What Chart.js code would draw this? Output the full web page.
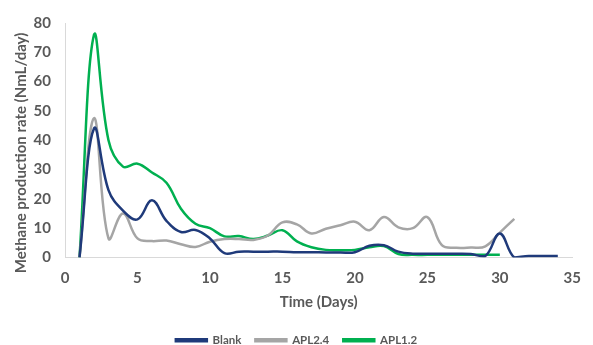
<!DOCTYPE html>
<html>
<head>
<meta charset="utf-8">
<script src="https://cdn.jsdelivr.net/npm/chart.js@4/dist/chart.umd.min.js"></script>
<style>
  html, body { margin: 0; padding: 0; background: #fff; }
  #wrap { position: relative; width: 593px; height: 345px; }
</style>
</head>
<body>
<div id="wrap"><canvas id="c" width="593" height="345"></canvas></div>
<script>
// ---- data ----
const seriesNames = ['Blank', 'APL2.4', 'APL1.2'];
const blankDays = [1,2,3,4,5,6,7,8,9,10,11,12,13,14,15,16,17,18,19,20,21,22,23,24,25,26,27,28,29,30,31,32,33,34];
const blankRate = [0,44,23,16,13,19.5,12.5,8.7,9.4,6.5,1.5,2,2,2,2,1.8,1.8,1.7,1.7,1.8,4,4.2,2,1.3,1.3,1.3,1.3,1.2,0.5,8.2,0,0.5,0.5,0.5];
const apl24Days = [1,2,3,4,5,6,7,8,9,10,11,12,13,14,15,16,17,18,19,20,21,22,23,24,25,26,27,28,29,30,31];
const apl24Rate = [0,47.5,6.5,15,6.5,5.6,5.8,4.5,3.6,5.4,6.3,6.3,6,7.5,12,11.3,8.2,9.8,11,12.2,9.3,13.8,10.3,10,13.8,4.2,3.3,3.4,3.8,8.5,13.2];
const apl12Days = [1,2,3,4,5,6,7,8,9,10,11,12,13,14,15,16,17,18,19,20,21,22,23,24,25,26,27,28,29,30];
const apl12Rate = [0,76,40,31,32,29,25.5,16.6,11.5,10,7.2,7.3,6.3,7.5,9.3,5.5,3.5,2.6,2.5,2.6,3.5,3.9,1.2,0.9,0.9,0.9,0.9,0.9,0.9,0.9];
const xTicks = [0,5,10,15,20,25,30,35];
const yTicks = [0,10,20,30,40,50,60,70,80];
const xTitle = 'Time (Days)';
const yTitle = 'Methane production rate (NmL/day)';

const colors = ['#1F3A7A', '#A5A5A5', '#00B050'];
const FONT = 'Lato, "Open Sans", sans-serif';
const GREY = '#595959';

function pts(xs, ys) { return xs.map((x, i) => ({ x: x, y: ys[i] })); }

const yTitlePlugin = {
  id: 'yTitle',
  afterDraw(chart) {
    const ctx = chart.ctx;
    ctx.save();
    ctx.translate(21, 153);
    ctx.rotate(-Math.PI / 2);
    ctx.font = 'bold 15px ' + FONT;
    ctx.fillStyle = GREY;
    ctx.textAlign = 'center';
    ctx.textBaseline = 'middle';
    ctx.fillText(yTitle, 0, 0);
    ctx.restore();
  }
};

new Chart(document.getElementById('c'), {
  type: 'line',
  data: {
    datasets: [
      { label: seriesNames[0], data: pts(blankDays, blankRate) },
      { label: seriesNames[1], data: pts(apl24Days, apl24Rate) },
      { label: seriesNames[2], data: pts(apl12Days, apl12Rate) }
    ].map((d, i) => Object.assign(d, {
      borderColor: colors[i],
      backgroundColor: colors[i],
      borderWidth: 2.5,
      pointRadius: 0,
      tension: 0.4,
      fill: false
    }))
  },
  options: {
    responsive: false,
    animation: false,
    devicePixelRatio: 1,
    layout: { padding: { left: 0, right: 0, top: 8, bottom: -11 } },
    plugins: {
      legend: {
        position: 'bottom',
        labels: {
          boxWidth: 31,
          boxHeight: 2,
          padding: 14,
          color: GREY,
          font: { family: FONT, size: 11.5, weight: 'bold' }
        }
      },
      tooltip: { enabled: false }
    },
    scales: {
      x: {
        type: 'linear',
        min: 0, max: 35,
        afterBuildTicks(scale) { scale.ticks = xTicks.map(v => ({ value: v })); },
        grid: { display: false, drawTicks: false },
        border: { display: true, color: '#D9D9D9', width: 1 },
        ticks: { color: GREY, padding: 12, font: { family: FONT, size: 15, weight: 'bold' } },
        title: { display: true, text: xTitle, color: GREY, padding: { top: 4, bottom: 9 },
                 font: { family: FONT, size: 15, weight: 'bold' } },
        afterFit(scale) { scale.height = 63; }
      },
      y: {
        min: 0, max: 80,
        afterBuildTicks(scale) { scale.ticks = yTicks.map(v => ({ value: v })); },
        grid: { display: false, drawTicks: false },
        border: { display: true, color: '#D9D9D9', width: 1 },
        ticks: { color: GREY, padding: 14, font: { family: FONT, size: 15, weight: 'bold' } },
        afterFit(scale) { scale.width = 65; }
      }
    }
  },
  plugins: [yTitlePlugin]
});
</script>
</body>
</html>
